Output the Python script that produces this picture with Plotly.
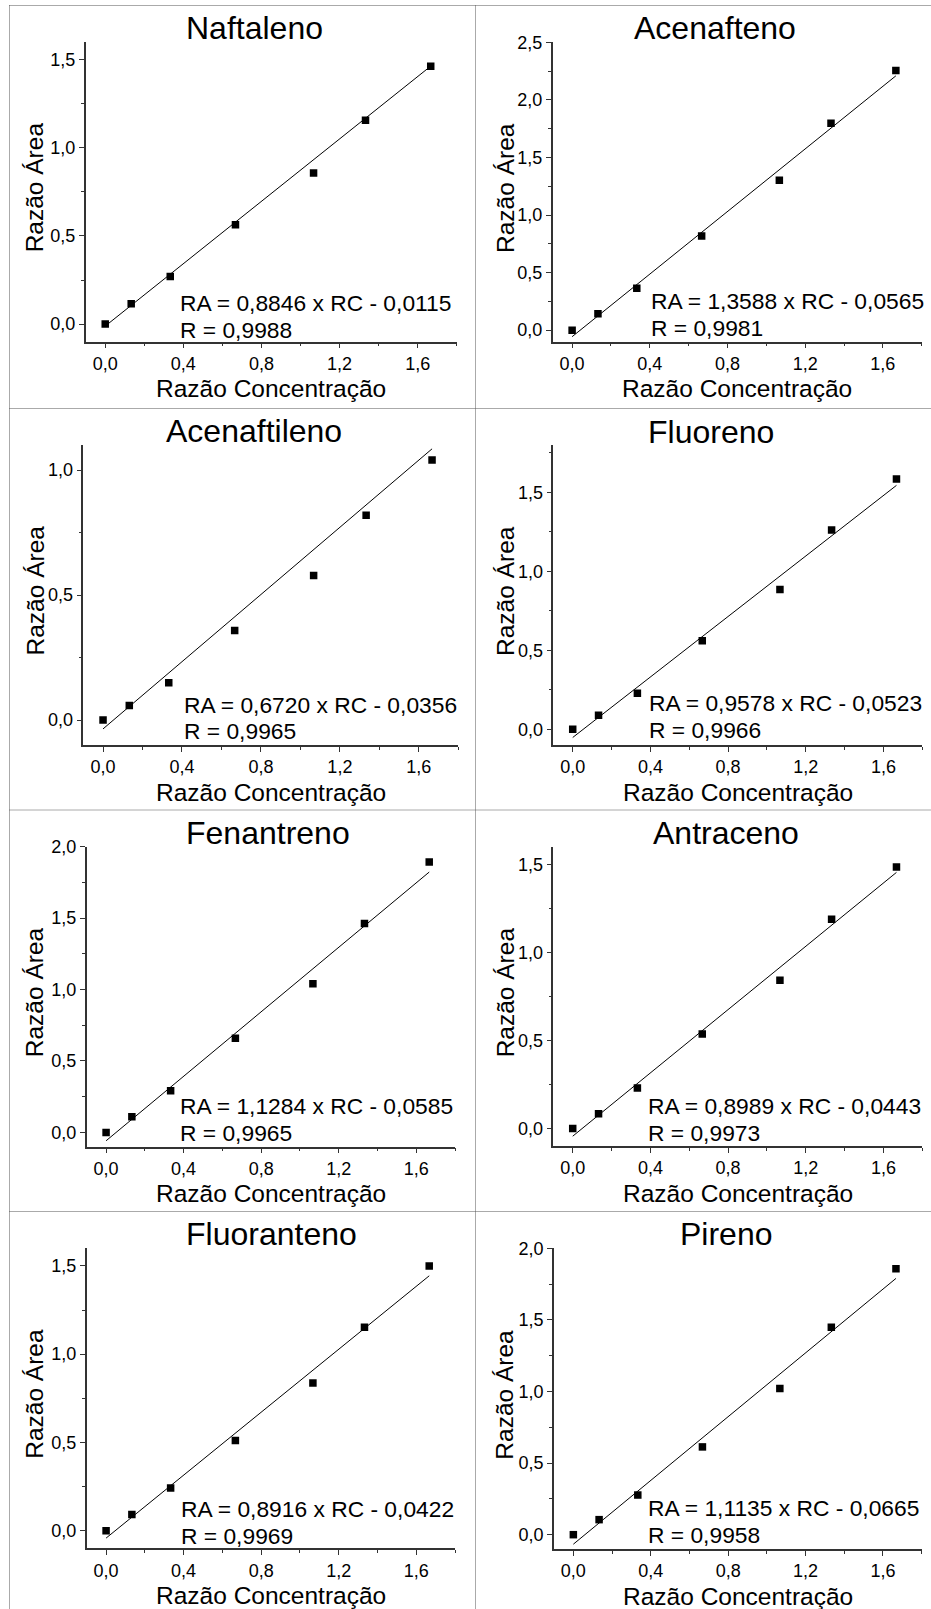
import plotly.graph_objects as go

# Curvas de calibração dos HPAs: razão de área vs razão de concentração
compostos = ["Naftaleno", "Acenafteno", "Acenaftileno", "Fluoreno",
             "Fenantreno", "Antraceno", "Fluoranteno", "Pireno"]

razao_conc = [0.0, 0.133, 0.333, 0.667, 1.067, 1.333, 1.667]

naftaleno = [0.0, 0.115, 0.270, 0.564, 0.857, 1.156, 1.462]
acenafteno = [0.0, 0.142, 0.364, 0.818, 1.303, 1.797, 2.256]
acenaftileno = [0.0, 0.058, 0.149, 0.358, 0.578, 0.819, 1.040]
fluoreno = [0.0, 0.089, 0.228, 0.560, 0.885, 1.261, 1.584]
fenantreno = [0.0, 0.109, 0.291, 0.660, 1.041, 1.462, 1.893]
antraceno = [0.0, 0.083, 0.230, 0.536, 0.842, 1.188, 1.485]
fluoranteno = [0.0, 0.092, 0.242, 0.511, 0.836, 1.153, 1.500]
pireno = [0.0, 0.105, 0.277, 0.613, 1.021, 1.448, 1.857]

razao_area = [naftaleno, acenafteno, acenaftileno, fluoreno,
              fenantreno, antraceno, fluoranteno, pireno]

inclinacoes = [0.8846, 1.3588, 0.6720, 0.9578, 1.1284, 0.8989, 0.8916, 1.1135]
interceptos = [-0.0115, -0.0565, -0.0356, -0.0523, -0.0585, -0.0443, -0.0422, -0.0665]
coef_r = ["0,9988", "0,9981", "0,9965", "0,9966", "0,9965", "0,9973", "0,9969", "0,9958"]

y_max = [1.6, 2.5, 1.1, 1.8, 2.0, 1.6, 1.6, 2.0]
x_range = [-0.1, 1.8]
y_min = -0.1

# ---- page geometry (pixels) ----
W, H = 931, 1609
# plot rectangles: left, right, top, bottom
areas = [
    (85.7, 456.7, 42.0, 341.7),
    (552.7, 921.7, 42.3, 341.7),
    (83.3, 458.3, 445.0, 745.0),
    (553.3, 922.3, 445.0, 745.0),
    (86.7, 455.0, 846.7, 1146.7),
    (553.3, 922.3, 846.7, 1146.0),
    (86.7, 455.0, 1248.3, 1548.3),
    (554.0, 921.7, 1248.3, 1549.0),
]
titulo_pos = [(254, 27.7), (715, 28.2), (254, 430.8), (711, 431.7),
              (267.5, 833), (726, 833), (271, 1234.3), (726, 1234.3)]
equacao_pos = [(180, 303), (651, 301.3), (184.3, 704.7), (649.3, 703),
               (180.7, 1106.3), (648.3, 1106.3), (181, 1509), (648.3, 1508)]
ytitulo_x = [34.5, 505]

FONT = "Liberation Sans"
AXIS_COLOR = "#333333"


def px(x):
    return x / W


def py(y):
    return 1 - y / H


fig = go.Figure()
annotations = []

for i, nome in enumerate(compostos):
    k = i + 1
    xa = "x" if k == 1 else f"x{k}"
    ya = "y" if k == 1 else f"y{k}"
    left, right, top, bottom = areas[i]

    # ajuste linear declarado na equação
    a, b = inclinacoes[i], interceptos[i]
    x_fit = [razao_conc[0], razao_conc[-1]]
    y_fit = [a * x + b for x in x_fit]
    fig.add_trace(go.Scatter(x=x_fit, y=y_fit, mode="lines",
                             line=dict(color="black", width=1),
                             xaxis=xa, yaxis=ya, showlegend=False,
                             hoverinfo="skip"))
    fig.add_trace(go.Scatter(x=razao_conc, y=razao_area[i], mode="markers",
                             marker=dict(symbol="square", size=7.5, color="black"),
                             xaxis=xa, yaxis=ya, showlegend=False))

    common = dict(showline=True, linecolor=AXIS_COLOR, linewidth=1.5,
                  ticks="outside", ticklen=5, tickwidth=1.2, tickcolor=AXIS_COLOR,
                  showgrid=False, zeroline=False, tickformat=".1f",
                  automargin=False,
                  tickfont=dict(family=FONT, size=18, color="black"))
    fig.update_layout(**{
        f"xaxis{'' if k == 1 else k}": dict(
            common, domain=[px(left), px(right)], anchor=ya,
            range=x_range, tick0=0, dtick=0.4,
            minor=dict(ticks="outside", ticklen=3, tick0=0, dtick=0.2,
                       tickcolor=AXIS_COLOR, tickwidth=1)),
        f"yaxis{'' if k == 1 else k}": dict(
            common, domain=[py(bottom), py(top)], anchor=xa,
            range=[y_min, y_max[i]], tick0=0, dtick=0.5,
            minor=dict(ticks="outside", ticklen=3, tick0=0, dtick=0.25,
                       tickcolor=AXIS_COLOR, tickwidth=1)),
    })

    # título do composto
    tx, ty = titulo_pos[i]
    annotations.append(dict(text=nome, x=px(tx), y=py(ty), xref="paper", yref="paper",
                            xanchor="center", yanchor="middle", showarrow=False,
                            font=dict(family=FONT, size=32, color="black")))
    # equação e coeficiente de correlação
    ex, ey = equacao_pos[i]
    eq = f"RA = {a:.4f} x RC - {abs(b):.4f}".replace(".", ",")
    for j, linha in enumerate([eq, f"R = {coef_r[i]}"]):
        annotations.append(dict(text=linha, x=px(ex - 2.5), y=py(ey + 26.5 * j),
                                xref="paper", yref="paper", xanchor="left",
                                yanchor="middle", showarrow=False,
                                font=dict(family=FONT, size=22.8, color="black")))
    # títulos dos eixos
    annotations.append(dict(text="Razão Concentração", x=px((left + right) / 2),
                            y=py(bottom + 47), xref="paper", yref="paper",
                            xanchor="center", yanchor="middle", showarrow=False,
                            font=dict(family=FONT, size=24.5, color="black")))
    annotations.append(dict(text="Razão Área", x=px(ytitulo_x[i % 2]),
                            y=py((top + bottom) / 2 - 4), xref="paper", yref="paper",
                            xanchor="center", yanchor="middle", textangle=-90,
                            showarrow=False,
                            font=dict(family=FONT, size=24.5, color="black")))

# moldura pontilhada separando os painéis
shapes = []
dot = dict(color="#555555", width=1, dash="1px,1px")
for xv in (9.5, 475.5):
    shapes.append(dict(type="line", xref="paper", yref="paper",
                       x0=px(xv), x1=px(xv), y0=py(5.5), y1=0, line=dot))
for yv in (5.5, 408.5, 810.0, 1211.5):
    shapes.append(dict(type="line", xref="paper", yref="paper",
                       x0=px(9.5), x1=1, y0=py(yv), y1=py(yv), line=dot))

fig.update_layout(width=W, height=H, margin=dict(l=0, r=0, t=0, b=0, pad=0),
                  autosize=False,
                  paper_bgcolor="white", plot_bgcolor="white",
                  separators=", ", annotations=annotations, shapes=shapes,
                  font=dict(family=FONT, color="black"))

fig.write_html("out.html")
